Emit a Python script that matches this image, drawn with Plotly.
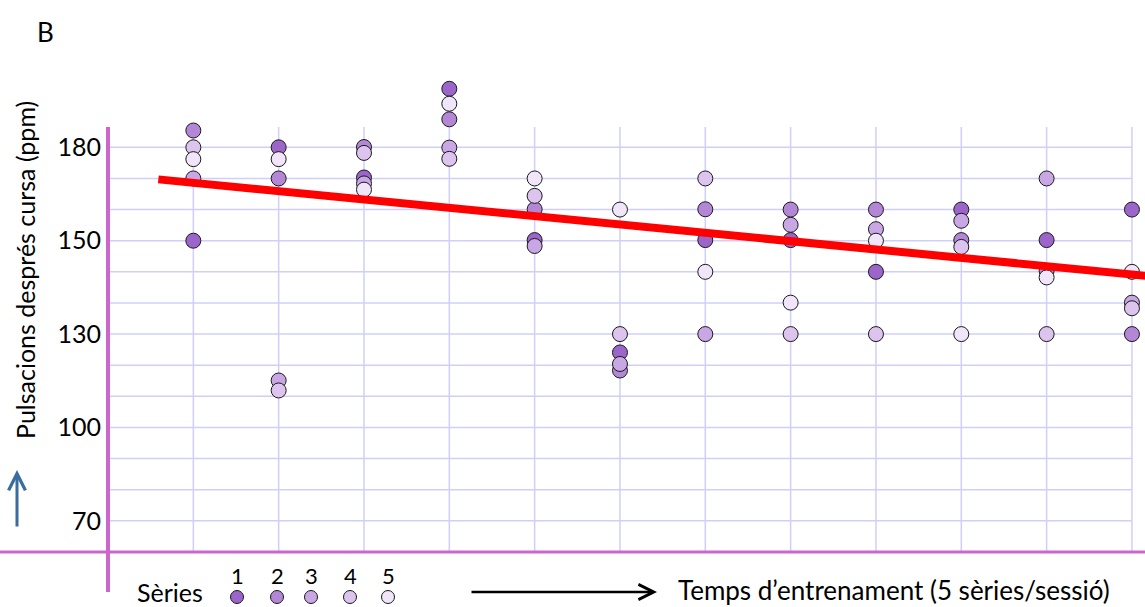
import plotly.graph_objects as go

# ---- data (y in grid units: one gridline = 10; labels as printed on the chart) ----
sessions = [1, 2, 3, 4, 5, 6, 7, 8, 9, 10, 11, 12]
serie1 = [150.0, 180.0, 170.3, 198.8, 150.2, 114.1, 150.2, 150.2, 140.0, 160.0, 150.2, 160.0]
serie2 = [185.4, 170.0, 180.1, 189.0, 160.1, 108.3, 160.1, 160.0, 160.0, 150.2, 140.3, 120.0]
serie3 = [170.0, 105.1, 168.4, 179.9, 148.3, 110.4, 120.0, 155.1, 153.7, 156.4, 170.0, 130.1]
serie4 = [180.0, 101.9, 178.2, 176.3, 164.4, 120.0, 170.0, 120.0, 120.0, 148.0, 120.0, 128.3]
serie5 = [176.2, 176.2, 166.4, 194.0, 170.0, 160.0, 140.0, 130.1, 150.0, 120.0, 138.2, 140.0]
series_names = ["1", "2", "3", "4", "5"]
series_colors = ["#9C65C9", "#B386D6", "#C9A6E4", "#DCC4EE", "#F0E5F9"]

trend_x = [0.59, 12.2]
trend_y = [169.7, 138.6]

tick_vals = [180, 150, 120, 90, 60]
tick_text = ["180", "150", "130", "100", "70"]

# ---- layout constants ----
W, H = 1145, 607
ML, MR, MT, MB = 108, 0, 79, 55
PW, PH = W - ML - MR, H - MT - MB
X_RANGE = [0, 12.153]
Y_RANGE = [50, 50 + PH / 3.113]
GRID_TOP = 186.5
FONT = "Lato, 'Open Sans', sans-serif"
GRID = "#CFCFFA"
MAGENTA = "#CC66CC"


def px_x(px):
    return (px - ML) / PW


def px_y(py):
    return (H - MB - py) / PH


fig = go.Figure()

for name, vals, col in zip(series_names, [serie1, serie2, serie3, serie4, serie5], series_colors):
    fig.add_trace(go.Scatter(
        x=sessions, y=vals, mode="markers", name=name, cliponaxis=False,
        marker=dict(size=15, color=col, line=dict(color="#1a1a1a", width=1)),
        showlegend=False,
    ))

fig.add_trace(go.Scatter(
    x=trend_x, y=trend_y, mode="lines", line=dict(color="#FF0000", width=8),
    showlegend=False, hoverinfo="skip",
))

shapes = []
# grid
for v in range(60, 181, 10):
    shapes.append(dict(type="line", xref="x", yref="y", x0=0, x1=12, y0=v, y1=v,
                       line=dict(color=GRID, width=1.5), layer="below"))
for s in sessions:
    shapes.append(dict(type="line", xref="x", yref="y", x0=s, x1=s, y0=Y_RANGE[0], y1=GRID_TOP,
                       line=dict(color=GRID, width=1.5), layer="below"))
# axes (crossing magenta lines)
shapes.append(dict(type="line", xref="paper", yref="paper", x0=px_x(0), x1=1.0, y0=0, y1=0,
                   line=dict(color=MAGENTA, width=3)))
shapes.append(dict(type="line", xref="paper", yref="paper", x0=0, x1=0, y0=px_y(592), y1=px_y(127),
                   line=dict(color=MAGENTA, width=4)))
# legend dots
legend_px = [237, 277, 311, 350, 388]
for xp, col in zip(legend_px, series_colors):
    r = 6.5
    shapes.append(dict(type="circle", xref="paper", yref="paper",
                       x0=px_x(xp - r), x1=px_x(xp + r), y0=px_y(597 + r), y1=px_y(597 - r),
                       fillcolor=col, line=dict(color="#1a1a1a", width=1)))

annotations = [
    dict(text="B", x=px_x(45), y=px_y(32), xref="paper", yref="paper", showarrow=False,
         font=dict(family=FONT, size=26, color="#000"), xanchor="center", yanchor="middle"),
    dict(text="Pulsacions després cursa (ppm)", x=px_x(25), y=px_y(270), xref="paper", yref="paper",
         showarrow=False, textangle=-90, font=dict(family=FONT, size=25, color="#000"),
         xanchor="center", yanchor="middle"),
    dict(text="Sèries", x=px_x(170), y=px_y(592), xref="paper", yref="paper", showarrow=False,
         font=dict(family=FONT, size=25, color="#000"), xanchor="center", yanchor="middle"),
    dict(text="Temps d\u2019entrenament (5 sèries/sessió)", x=px_x(676), y=px_y(590),
         xref="paper", yref="paper", showarrow=False,
         font=dict(family=FONT, size=26, color="#000"), xanchor="left", yanchor="middle"),
    # black arrow
    dict(text="", x=px_x(657), y=px_y(592), xref="paper", yref="paper", showarrow=True,
         ax=-187, ay=0, arrowhead=5, arrowsize=1.2, arrowwidth=2.5, arrowcolor="#000"),
    # blue arrow
    dict(text="", x=px_x(17), y=px_y(470), xref="paper", yref="paper", showarrow=True,
         ax=0, ay=58, arrowhead=5, arrowsize=1.1, arrowwidth=3, arrowcolor="#3A6D9E"),
]
for xp, name in zip(legend_px, series_names):
    annotations.append(dict(text=name, x=px_x(xp), y=px_y(575), xref="paper", yref="paper",
                            showarrow=False, font=dict(family=FONT, size=22, color="#000"),
                            xanchor="center", yanchor="middle"))

fig.update_layout(
    width=W, height=H,
    margin=dict(l=ML, r=MR, t=MT, b=MB, pad=0),
    paper_bgcolor="white", plot_bgcolor="white",
    showlegend=False,
    xaxis=dict(range=X_RANGE, showgrid=False, zeroline=False, showticklabels=False,
               showline=False, fixedrange=True),
    yaxis=dict(range=Y_RANGE, showgrid=False, zeroline=False, showline=False,
               tickmode="array", tickvals=tick_vals, ticktext=tick_text,
               ticks="", ticklabelstandoff=6,
               tickfont=dict(family=FONT, size=25, color="#000"), fixedrange=True),
    shapes=shapes, annotations=annotations,
)

fig.write_html("out.html")
